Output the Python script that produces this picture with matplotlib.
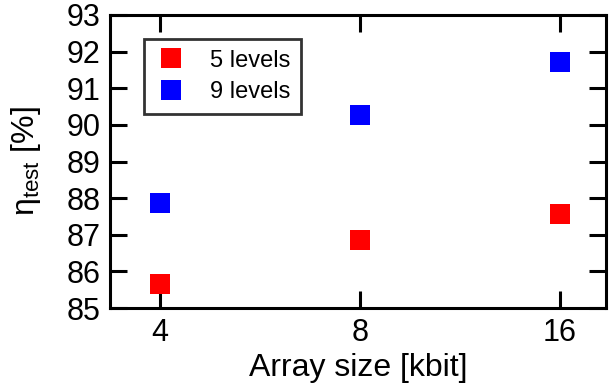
import matplotlib
matplotlib.use("Agg")
import matplotlib.pyplot as plt

plt.rcParams['font.family'] = ['Liberation Sans', 'DejaVu Sans']
plt.rcParams['mathtext.fontset'] = 'custom'
plt.rcParams['mathtext.rm'] = 'Liberation Sans'
plt.rcParams['mathtext.it'] = 'Liberation Sans'
plt.rcParams['mathtext.default'] = 'rm'

sizes = [4, 8, 16]
size_labels = ["4", "8", "16"]
levels5 = [85.65, 86.85, 87.57]
levels9 = [87.86, 90.28, 91.73]

fig = plt.figure(figsize=(6.10, 3.92), dpi=100)
ax = fig.add_axes([110/610, (392-308)/392, 496/610, 293/392])

ax.set_xscale('log', base=2)
ax.plot(sizes, levels5, 's', color='#ff0000', markersize=14.5, markeredgewidth=0, label='5 levels')
ax.plot(sizes, levels9, 's', color='#0000ff', markersize=14.5, markeredgewidth=0, label='9 levels')

ax.set_xlim(2**1.75, 2**4.23)
ax.set_ylim(85, 93)
ax.set_xticks(sizes)
ax.set_xticklabels(size_labels)
ax.xaxis.set_minor_locator(matplotlib.ticker.NullLocator())
ax.set_yticks(range(85, 94))

for s in ax.spines.values():
    s.set_linewidth(2.2)
ax.tick_params(direction='in', length=12, width=2.2, labelsize=22, top=True, right=True, pad=7)

ax.set_xlabel('Array size [kbit]', fontsize=23, labelpad=4)
ax.set_ylabel(r'$\eta_{\mathrm{test}}$ [%]', fontsize=23)
ax.yaxis.set_label_coords(-0.135, 0.5)

leg = ax.legend(loc='upper left', bbox_to_anchor=(34/496, 1 - 24/293), numpoints=1,
                fontsize=17, frameon=True, fancybox=False, edgecolor='black',
                handletextpad=0.95, borderpad=0.45, labelspacing=0.4, handlelength=1.4,
                borderaxespad=0)
leg.get_frame().set_linewidth(2)

fig.savefig('out.png', dpi=100)
